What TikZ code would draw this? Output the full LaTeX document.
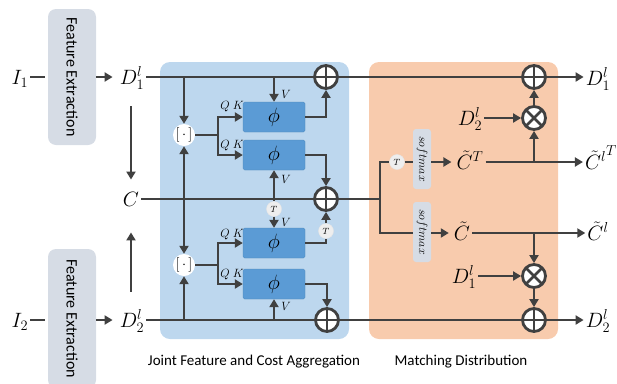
\documentclass[tikz,border=0pt]{standalone}
\usepackage{fontspec}
\setmainfont{Carlito}
\usetikzlibrary{arrows.meta}
\definecolor{ink}{RGB}{64,64,64}
\definecolor{aggfill}{RGB}{189,215,238}
\definecolor{phifill}{RGB}{91,155,213}
\definecolor{matchfill}{RGB}{248,203,173}
\definecolor{extfill}{RGB}{214,220,229}
\definecolor{tfill}{RGB}{238,238,238}

\begin{document}
\begin{tikzpicture}[x=1pt,y=-1pt,
  conn/.style={draw=ink, line width=2.8pt},
  arr/.style={conn, -{Triangle[length=8pt,width=9pt]}},
  biarr/.style={conn, {Triangle[length=8pt,width=9pt]}-{Triangle[length=8pt,width=9pt]}},
  lab/.style={inner sep=2pt, text height=14.5pt, text depth=0pt, font=\fontsize{21}{24}\selectfont},
  extbox/.style={fill=extfill, rounded corners=8pt, minimum width=48pt, inner sep=0pt, font=\fontsize{16}{19}\selectfont},
  phibox/.style={fill=phifill, draw=phifill!85!black, line width=0.3pt, rounded corners=1.5pt, minimum width=62pt, minimum height=30pt, inner sep=0pt, font=\fontsize{22}{24}\selectfont},
  smbox/.style={fill=extfill, rounded corners=3pt, minimum width=18pt, minimum height=60pt, inner sep=0pt, font=\fontsize{13}{15}\selectfont},
  catnode/.style={circle, fill=white, minimum size=22pt, inner sep=0pt, font=\fontsize{15}{17}\selectfont},
  tnode/.style={circle, fill=tfill, draw=white!80!gray, line width=0.4pt, minimum size=15pt, inner sep=0pt, font=\fontsize{9}{10}\selectfont},
  sumnode/.style={circle, draw=ink, fill=white, line width=2.8pt, minimum size=23pt, inner sep=0pt,
    path picture={\draw[ink, line width=2.8pt] (path picture bounding box.north) -- (path picture bounding box.south)
      (path picture bounding box.west) -- (path picture bounding box.east);}},
  mulnode/.style={circle, draw=ink, fill=white, line width=2.8pt, minimum size=23pt, inner sep=0pt,
    path picture={\draw[ink, line width=2.8pt] (path picture bounding box.north west) -- (path picture bounding box.south east)
      (path picture bounding box.south west) -- (path picture bounding box.north east);}},
  small/.style={inner sep=0pt, font=\fontsize{12}{13}\selectfont},
  caption/.style={inner sep=0pt, font=\fontsize{15}{18}\selectfont}
]
\useasboundingbox (0,0) rectangle (617,383);

% panels
\fill[aggfill, rounded corners=10pt] (160,62) rectangle (349,339);
\fill[matchfill, rounded corners=10pt] (369,62) rectangle (558,339);
\node[caption] (capagg) at (254,362) {Joint Feature and Cost Aggregation};
\node[caption] (capmatch) at (461,362) {Matching Distribution};

% inputs and feature extraction
\node[lab] (in1) at (20,77) {$I_1$};
\node[lab] (in2) at (20,320) {$I_2$};
\node[lab] (d1in) at (132,77) {$D_1^l$};
\node[lab] (d2in) at (132,320) {$D_2^l$};
\node[lab] (cost) at (131,199) {$C$};
\node[extbox, minimum height=136pt] (fe1) at (72,77) {\rotatebox[origin=c]{-90}{Feature Extraction}};
\node[extbox, minimum height=139pt] (fe2) at (72,318.5) {\rotatebox[origin=c]{-90}{Feature Extraction}};
\draw[conn, shorten >=3pt] (in1.east) -- (in1.east -| fe1.west);
\draw[conn, shorten >=3pt] (in2.east) -- (in2.east -| fe2.west);
\draw[arr, shorten >=5pt] (fe1.east |- d1in) -- (d1in.west);
\draw[arr, shorten >=5pt] (fe2.east |- d2in) -- (d2in.west);
\draw[arr, shorten <=20pt, shorten >=10pt] (cost |- d1in.south) -- (cost.north);
\draw[arr, shorten <=19pt, shorten >=24pt] (cost |- d2in.north) -- (cost.south);

% aggregation block
\node[sumnode] (addT) at (326,77) {};
\node[sumnode] (addM) at (326,199) {};
\node[sumnode] (addB) at (327,320) {};
\node[catnode] (cat1) at (184,135) {$[\,\cdot\,]$};
\node[catnode] (cat2) at (184,265) {$[\,\cdot\,]$};
\node[phibox] (phi1) at (274,117) {$\phi$};
\node[phibox] (phi2) at (274,155) {$\phi$};
\node[phibox] (phi3) at (274,243) {$\phi$};
\node[phibox] (phi4) at (274,284) {$\phi$};
\node[tnode] (t1) at (274,209) {$T$};
\node[tnode] (t2) at (326,231) {$T$};

% matching block
\node[sumnode] (addT2) at (534,77) {};
\node[mulnode] (mulT) at (534,118) {};
\node[mulnode] (mulB) at (534,276) {};
\node[sumnode] (addB2) at (534,320) {};
\node[tnode] (t3) at (397,162) {$T$};
\node[smbox] (sm1) at (422,159) {\rotatebox[origin=c]{-90}{$softmax$}};
\node[smbox] (sm2) at (422,232) {\rotatebox[origin=c]{-90}{$softmax$}};
\node[lab] (ctT) at (470,162) {$\tilde{C}^T$};
\node[lab] (ct) at (462,233) {$\tilde{C}$};
\node[lab] (dA) at (470,118) {$D_2^l$};
\node[lab] (dB) at (464,276) {$D_1^l$};
\coordinate (jm) at (380,199);

% outputs
\node[lab] (out1) at (598,78) {$D_1^l$};
\node[lab] (outCT) at (601,162) {${\hbox{$\tilde{C}^{l}$}}^{T}$};
\node[lab] (outC) at (598,233) {$\tilde{C}^l$};
\node[lab] (out2) at (598,320) {$D_2^l$};

% feature rows
\draw[conn] (d1in.east) -- (addT.west) (addT.east) -- (addT2.west);
\draw[arr] (addT2.east) -- (out1.west |- addT2);
\draw[conn] (d2in.east) -- (addB.west) (addB.east) -- (addB2.west);
\draw[arr] (addB2.east) -- (out2.west |- addB2);
\draw[conn] (cost.east) -- (addM.west) (addM.east) -- (jm);

% concatenation inputs
\draw[arr] (cat1 |- addT) -- (cat1.north);
\draw[arr] (cat2 |- addB) -- (cat2.south);
\draw[biarr] (cat1.south) -- (cat2.north);

% query/key branches
\coordinate (j1) at (218,135);
\coordinate (j2) at (218,265);
\draw[conn] (cat1.east) -- (j1);
\draw[arr] (j1) |- (phi1.west);
\draw[arr] (j1) |- (phi2.west);
\draw[conn] (cat2.east) -- (j2);
\draw[arr] (j2) |- (phi3.west);
\draw[arr] (j2) |- (phi4.west);
\node[small] (qk1) at (232,107) {$Q\;K$};
\node[small] (qk2) at (232,146) {$Q\;K$};
\node[small] (qk3) at (232,235) {$Q\;K$};
\node[small] (qk4) at (232,275) {$Q\;K$};

% value inputs
\draw[arr] (phi1 |- addT) -- (phi1.north);
\draw[arr] (phi2 |- addM) -- (phi2.south);
\draw[conn] (phi3 |- addM) -- (t1.north);
\draw[arr] (t1.south) -- (phi3.north);
\draw[arr] (phi4 |- addB) -- (phi4.south);
\node[small] (v1) at (286,94) {$V$};
\node[small] (v2) at (286,179) {$V$};
\node[small] (v3) at (286,222) {$V$};
\node[small] (v4) at (286,306) {$V$};

% aggregation outputs
\draw[arr] (phi1.east) -| (addT.south);
\draw[arr] (phi2.east) -| (addM.north);
\draw[conn] (phi3.east) -| (t2.south);
\draw[arr] (t2.north) -- (addM.south);
\draw[arr] (phi4.east) -| (addB.north);

% softmax branches
\draw[conn] (jm) |- (t3.west);
\draw[conn] (t3.east) -- (sm1.west |- t3);
\draw[arr, shorten >=3pt] (sm1.east |- t3) -- (ctT.west);
\draw[conn] (jm) |- (sm2.west |- ct);
\draw[arr, shorten >=3pt] (sm2.east |- ct) -- (ct.west);

% matching outputs
\draw[arr] (ctT.east) -- (outCT.west |- ctT);
\draw[arr] (mulT |- ctT) -- (mulT.south);
\draw[arr] (dA.east) -- (mulT.west);
\draw[arr] (mulT.north) -- (addT2.south);
\draw[arr] (ct.east) -- (outC.west |- ct);
\draw[arr] (mulB |- ct) -- (mulB.north);
\draw[arr] (dB.east) -- (mulB.west);
\draw[arr] (mulB.south) -- (addB2.north);
\end{tikzpicture}
\end{document}
